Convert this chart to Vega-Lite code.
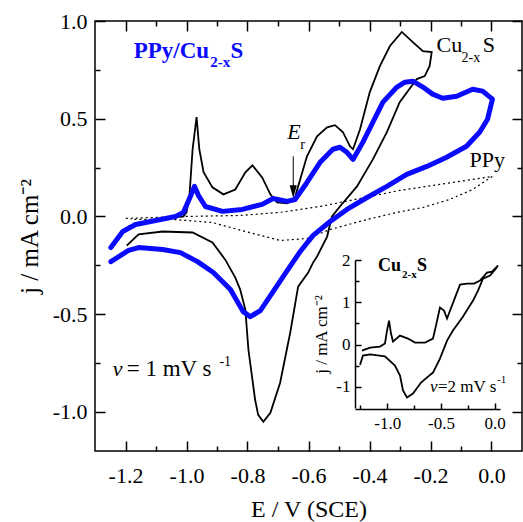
{
  "$schema": "https://vega.github.io/schema/vega-lite/v6.json",
  "width": 427,
  "height": 430,
  "autosize": "none",
  "padding": {"left": 95, "top": 21, "right": 1, "bottom": 71},
  "config": {
    "font": "Liberation Serif",
    "view": {"stroke": "#000", "strokeWidth": 1.5},
    "axis": {"grid": false, "tickColor": "#000", "tickWidth": 1.5, "domainColor": "#000", "domainWidth": 1.5, "labelColor": "#000", "titleColor": "#000", "titleFontWeight": "normal", "labelFont": "Liberation Serif", "titleFont": "Liberation Serif"}
  },
  "layer": [
    {
      "data": {"values": [
        {"s":"ppy","i":1,"x":-1.199,"y":-0.010},{"s":"ppy","i":2,"x":-1.003,"y":0.000},{"s":"ppy","i":3,"x":-0.824,"y":0.005},{"s":"ppy","i":4,"x":-0.693,"y":0.021},{"s":"ppy","i":5,"x":-0.562,"y":0.051},{"s":"ppy","i":6,"x":-0.431,"y":0.092},{"s":"ppy","i":7,"x":-0.301,"y":0.133},{"s":"ppy","i":8,"x":-0.170,"y":0.164},{"s":"ppy","i":9,"x":0.003,"y":0.205},{"s":"ppy","i":10,"x":-0.062,"y":0.138},{"s":"ppy","i":11,"x":-0.137,"y":0.087},{"s":"ppy","i":12,"x":-0.225,"y":0.046},{"s":"ppy","i":13,"x":-0.310,"y":0.021},{"s":"ppy","i":14,"x":-0.422,"y":-0.021},{"s":"ppy","i":15,"x":-0.529,"y":-0.067},{"s":"ppy","i":16,"x":-0.605,"y":-0.113},{"s":"ppy","i":17,"x":-0.693,"y":-0.123},{"s":"ppy","i":18,"x":-0.742,"y":-0.103},{"s":"ppy","i":19,"x":-0.807,"y":-0.077},{"s":"ppy","i":20,"x":-0.915,"y":-0.031},{"s":"ppy","i":21,"x":-1.046,"y":-0.015},{"s":"ppy","i":22,"x":-1.183,"y":-0.015},
        {"s":"cu","i":1,"x":-1.190,"y":-0.051},{"s":"cu","i":2,"x":-1.134,"y":-0.026},{"s":"cu","i":3,"x":-1.069,"y":-0.010},{"s":"cu","i":4,"x":-1.010,"y":0.000},{"s":"cu","i":5,"x":-1.000,"y":0.021},{"s":"cu","i":6,"x":-0.990,"y":0.113},{"s":"cu","i":7,"x":-0.980,"y":0.344},{"s":"cu","i":8,"x":-0.967,"y":0.508},{"s":"cu","i":9,"x":-0.958,"y":0.344},{"s":"cu","i":10,"x":-0.944,"y":0.226},{"s":"cu","i":11,"x":-0.915,"y":0.149},{"s":"cu","i":12,"x":-0.879,"y":0.113},{"s":"cu","i":13,"x":-0.840,"y":0.138},{"s":"cu","i":14,"x":-0.807,"y":0.226},{"s":"cu","i":15,"x":-0.784,"y":0.262},{"s":"cu","i":16,"x":-0.752,"y":0.200},{"s":"cu","i":17,"x":-0.725,"y":0.113},{"s":"cu","i":18,"x":-0.703,"y":0.072},{"s":"cu","i":19,"x":-0.670,"y":0.067},{"s":"cu","i":20,"x":-0.644,"y":0.097},{"s":"cu","i":21,"x":-0.637,"y":0.138},{"s":"cu","i":22,"x":-0.605,"y":0.308},{"s":"cu","i":23,"x":-0.572,"y":0.410},{"s":"cu","i":24,"x":-0.539,"y":0.456},{"s":"cu","i":25,"x":-0.513,"y":0.467},{"s":"cu","i":26,"x":-0.487,"y":0.431},{"s":"cu","i":27,"x":-0.464,"y":0.359},{"s":"cu","i":28,"x":-0.454,"y":0.344},{"s":"cu","i":29,"x":-0.431,"y":0.446},{"s":"cu","i":30,"x":-0.399,"y":0.636},{"s":"cu","i":31,"x":-0.366,"y":0.769},{"s":"cu","i":32,"x":-0.333,"y":0.872},{"s":"cu","i":33,"x":-0.294,"y":0.944},{"s":"cu","i":34,"x":-0.258,"y":0.892},{"s":"cu","i":35,"x":-0.225,"y":0.846},{"s":"cu","i":36,"x":-0.196,"y":0.841},{"s":"cu","i":37,"x":-0.203,"y":0.769},{"s":"cu","i":38,"x":-0.219,"y":0.718},{"s":"cu","i":39,"x":-0.245,"y":0.703},{"s":"cu","i":40,"x":-0.301,"y":0.585},{"s":"cu","i":41,"x":-0.343,"y":0.431},{"s":"cu","i":42,"x":-0.389,"y":0.292},{"s":"cu","i":43,"x":-0.441,"y":0.154},{"s":"cu","i":44,"x":-0.497,"y":0.051},{"s":"cu","i":45,"x":-0.523,"y":0.000},{"s":"cu","i":46,"x":-0.539,"y":-0.103},{"s":"cu","i":47,"x":-0.572,"y":-0.205},{"s":"cu","i":48,"x":-0.585,"y":-0.236},{"s":"cu","i":49,"x":-0.601,"y":-0.287},{"s":"cu","i":50,"x":-0.634,"y":-0.359},{"s":"cu","i":51,"x":-0.660,"y":-0.595},{"s":"cu","i":52,"x":-0.693,"y":-0.851},{"s":"cu","i":53,"x":-0.725,"y":-1.005},{"s":"cu","i":54,"x":-0.748,"y":-1.051},{"s":"cu","i":55,"x":-0.765,"y":-1.015},{"s":"cu","i":56,"x":-0.775,"y":-0.938},{"s":"cu","i":57,"x":-0.797,"y":-0.682},{"s":"cu","i":58,"x":-0.807,"y":-0.477},{"s":"cu","i":59,"x":-0.824,"y":-0.374},{"s":"cu","i":60,"x":-0.840,"y":-0.313},{"s":"cu","i":61,"x":-0.873,"y":-0.221},{"s":"cu","i":62,"x":-0.915,"y":-0.133},{"s":"cu","i":63,"x":-0.980,"y":-0.082},{"s":"cu","i":64,"x":-1.078,"y":-0.077},{"s":"cu","i":65,"x":-1.157,"y":-0.092},{"s":"cu","i":66,"x":-1.196,"y":-0.149},
        {"s":"pc","i":1,"x":-1.248,"y":-0.159},{"s":"pc","i":2,"x":-1.209,"y":-0.077},{"s":"pc","i":3,"x":-1.167,"y":-0.041},{"s":"pc","i":4,"x":-1.101,"y":-0.021},{"s":"pc","i":5,"x":-1.036,"y":0.000},{"s":"pc","i":6,"x":-1.010,"y":0.021},{"s":"pc","i":7,"x":-0.987,"y":0.103},{"s":"pc","i":8,"x":-0.974,"y":0.154},{"s":"pc","i":9,"x":-0.961,"y":0.108},{"s":"pc","i":10,"x":-0.938,"y":0.051},{"s":"pc","i":11,"x":-0.882,"y":0.026},{"s":"pc","i":12,"x":-0.817,"y":0.036},{"s":"pc","i":13,"x":-0.752,"y":0.062},{"s":"pc","i":14,"x":-0.716,"y":0.092},{"s":"pc","i":15,"x":-0.670,"y":0.077},{"s":"pc","i":16,"x":-0.644,"y":0.087},{"s":"pc","i":17,"x":-0.605,"y":0.174},{"s":"pc","i":18,"x":-0.562,"y":0.277},{"s":"pc","i":19,"x":-0.520,"y":0.344},{"s":"pc","i":20,"x":-0.497,"y":0.354},{"s":"pc","i":21,"x":-0.474,"y":0.328},{"s":"pc","i":22,"x":-0.454,"y":0.292},{"s":"pc","i":23,"x":-0.422,"y":0.379},{"s":"pc","i":24,"x":-0.389,"y":0.482},{"s":"pc","i":25,"x":-0.356,"y":0.585},{"s":"pc","i":26,"x":-0.310,"y":0.662},{"s":"pc","i":27,"x":-0.284,"y":0.687},{"s":"pc","i":28,"x":-0.258,"y":0.692},{"s":"pc","i":29,"x":-0.225,"y":0.662},{"s":"pc","i":30,"x":-0.193,"y":0.626},{"s":"pc","i":31,"x":-0.160,"y":0.605},{"s":"pc","i":32,"x":-0.114,"y":0.615},{"s":"pc","i":33,"x":-0.062,"y":0.651},{"s":"pc","i":34,"x":-0.029,"y":0.641},{"s":"pc","i":35,"x":0.003,"y":0.600},{"s":"pc","i":36,"x":-0.013,"y":0.497},{"s":"pc","i":37,"x":-0.039,"y":0.431},{"s":"pc","i":38,"x":-0.082,"y":0.359},{"s":"pc","i":39,"x":-0.147,"y":0.303},{"s":"pc","i":40,"x":-0.212,"y":0.256},{"s":"pc","i":41,"x":-0.278,"y":0.215},{"s":"pc","i":42,"x":-0.343,"y":0.154},{"s":"pc","i":43,"x":-0.408,"y":0.097},{"s":"pc","i":44,"x":-0.474,"y":0.036},{"s":"pc","i":45,"x":-0.529,"y":-0.026},{"s":"pc","i":46,"x":-0.585,"y":-0.097},{"s":"pc","i":47,"x":-0.627,"y":-0.179},{"s":"pc","i":48,"x":-0.670,"y":-0.277},{"s":"pc","i":49,"x":-0.716,"y":-0.385},{"s":"pc","i":50,"x":-0.758,"y":-0.482},{"s":"pc","i":51,"x":-0.791,"y":-0.513},{"s":"pc","i":52,"x":-0.814,"y":-0.487},{"s":"pc","i":53,"x":-0.856,"y":-0.374},{"s":"pc","i":54,"x":-0.912,"y":-0.287},{"s":"pc","i":55,"x":-0.964,"y":-0.231},{"s":"pc","i":56,"x":-1.020,"y":-0.185},{"s":"pc","i":57,"x":-1.078,"y":-0.169},{"s":"pc","i":58,"x":-1.157,"y":-0.159},{"s":"pc","i":59,"x":-1.190,"y":-0.174},{"s":"pc","i":60,"x":-1.248,"y":-0.231}
      ]},
      "encoding": {
        "x": {"field": "x", "type": "quantitative", "scale": {"domain": [-1.3, 0.1], "nice": false, "zero": false},
          "axis": {"orient": "bottom", "domain": false, "title": "E / V (SCE)", "titleFontSize": 24, "titlePadding": 11, "labelFontSize": 22,
            "values": [-1.2,-1.1,-1.0,-0.9,-0.8,-0.7,-0.6,-0.5,-0.4,-0.3,-0.2,-0.1,0.0],
            "tickSize": {"condition": {"test": "round(datum.value*10) % 2 == 0", "value": -10}, "value": -5},
            "labelPadding": 24,
            "labelExpr": "round(datum.value*10) % 2 == 0 ? replace(format(datum.value, '.1f'), '\u2212', '-') : ''"}},
        "y": {"field": "y", "type": "quantitative", "scale": {"domain": [-1.2, 1.0], "nice": false, "zero": false},
          "axis": {"orient": "left", "domain": false, "title": "j / mA cm\u207b\u00b2", "titleFontSize": 25, "titlePadding": 10, "labelFontSize": 22,
            "values": [-1.0,-0.75,-0.5,-0.25,0,0.25,0.5,0.75,1.0],
            "tickSize": {"condition": {"test": "round(datum.value*4) % 2 == 0", "value": -10}, "value": -5},
            "labelPadding": 18,
            "labelExpr": "round(datum.value*4) % 2 == 0 ? replace(format(datum.value, '.1f'), '\u2212', '-') : ''"}}
      },
      "layer": [
        {"transform": [{"filter": "datum.s === 'ppy'"}], "mark": {"type": "line", "color": "#000", "strokeWidth": 1.2, "strokeDash": [2, 3]}, "encoding": {"order": {"field": "i", "type": "quantitative"}}},
        {"transform": [{"filter": "datum.s === 'cu'"}], "mark": {"type": "line", "color": "#000", "strokeWidth": 1.8}, "encoding": {"order": {"field": "i", "type": "quantitative"}}},
        {"transform": [{"filter": "datum.s === 'pc'"}], "mark": {"type": "line", "color": "#0a0aff", "strokeWidth": 5, "strokeCap": "round", "strokeJoin": "round"}, "encoding": {"order": {"field": "i", "type": "quantitative"}}},
        {"data": {"values": [{"x": -0.650, "y": 0.308, "y2": 0.12}]}, "mark": {"type": "rule", "color": "#000", "strokeWidth": 1}, "encoding": {"y2": {"field": "y2"}}},
        {"data": {"values": [{"x": -0.650, "y": 0.126}]}, "mark": {"type": "point", "shape": "M-0.55,-1L0.55,-1L0,1Z", "filled": true, "color": "#000", "opacity": 1, "size": 169}},
        {"data": {"values": [{"x": -1.173, "y": 0.81, "t": "PPy/Cu"}, {"x": -0.856, "y": 0.81, "t": "S"}]}, "mark": {"type": "text", "align": "left", "baseline": "alphabetic", "fontSize": 23, "fontWeight": "bold", "color": "#0a0aff"}, "encoding": {"text": {"field": "t"}}},
        {"data": {"values": [{"x": -0.922, "y": 0.764, "t": "2-x"}]}, "mark": {"type": "text", "align": "left", "baseline": "alphabetic", "fontSize": 15, "fontWeight": "bold", "color": "#0a0aff"}, "encoding": {"text": {"field": "t"}}},
        {"data": {"values": [{"x": -0.180, "y": 0.841, "t": "Cu"}, {"x": -0.029, "y": 0.841, "t": "S"}, {"x": -0.072, "y": 0.251, "t": "PPy"}]}, "mark": {"type": "text", "align": "left", "baseline": "alphabetic", "fontSize": 22, "color": "#000"}, "encoding": {"text": {"field": "t"}}},
        {"data": {"values": [{"x": -1.196, "y": -0.815, "t": "= 1 mV s"}]}, "mark": {"type": "text", "align": "left", "baseline": "alphabetic", "fontSize": 23, "color": "#000"}, "encoding": {"text": {"field": "t"}}},
        {"data": {"values": [{"x": -0.098, "y": 0.790, "t": "2-x"}, {"x": -0.627, "y": 0.344, "t": "r"}, {"x": -0.892, "y": -0.764, "t": "-1"}]}, "mark": {"type": "text", "align": "left", "baseline": "alphabetic", "fontSize": 14, "color": "#000"}, "encoding": {"text": {"field": "t"}}},
        {"data": {"values": [{"x": -0.670, "y": 0.395, "t": "E"}, {"x": -1.242, "y": -0.815, "t": "v"}]}, "mark": {"type": "text", "align": "left", "baseline": "alphabetic", "fontSize": 22, "fontStyle": "italic", "color": "#000"}, "encoding": {"text": {"field": "t"}}}
      ]
    },
    {
      "data": {"values": [{"x": 0, "y": 0}]},
      "mark": {"type": "point", "opacity": 0},
      "encoding": {
        "x": {"field": "x", "type": "quantitative", "scale": {"domain": [-1.3, 0.1], "nice": false, "zero": false},
          "axis": {"orient": "top", "domain": false, "labels": false, "title": null,
            "values": [-1.2,-1.1,-1.0,-0.9,-0.8,-0.7,-0.6,-0.5,-0.4,-0.3,-0.2,-0.1,0.0],
            "tickSize": {"condition": {"test": "round(datum.value*10) % 2 == 0", "value": -10}, "value": -5}}},
        "y": {"field": "y", "type": "quantitative", "scale": {"domain": [-1.2, 1.0], "nice": false, "zero": false},
          "axis": {"orient": "right", "domain": false, "labels": false, "title": null,
            "values": [-1.0,-0.75,-0.5,-0.25,0,0.25,0.5,0.75,1.0],
            "tickSize": {"condition": {"test": "round(datum.value*4) % 2 == 0", "value": -10}, "value": -5}}}
      }
    },
    {
      "data": {"values": [
        {"i":1,"x":-1.235,"y":-0.142},{"i":2,"x":-1.160,"y":-0.071},{"i":3,"x":-1.067,"y":-0.047},{"i":4,"x":-1.021,"y":0.024},{"i":5,"x":-1.002,"y":0.331},{"i":6,"x":-0.983,"y":0.567},{"i":7,"x":-0.965,"y":0.260},{"i":8,"x":-0.946,"y":0.071},{"i":9,"x":-0.881,"y":0.213},{"i":10,"x":-0.807,"y":0.142},{"i":11,"x":-0.741,"y":0.047},{"i":12,"x":-0.648,"y":0.047},{"i":13,"x":-0.574,"y":0.142},{"i":14,"x":-0.546,"y":0.449},{"i":15,"x":-0.509,"y":0.875},{"i":16,"x":-0.471,"y":0.804},{"i":17,"x":-0.443,"y":0.615},{"i":18,"x":-0.369,"y":1.111},{"i":19,"x":-0.322,"y":1.418},{"i":20,"x":-0.257,"y":1.442},{"i":21,"x":-0.192,"y":1.442},{"i":22,"x":-0.136,"y":1.513},{"i":23,"x":-0.071,"y":1.702},{"i":24,"x":-0.024,"y":1.726},{"i":25,"x":0.031,"y":1.868},
        {"i":26,"x":0.013,"y":1.797},{"i":27,"x":-0.043,"y":1.631},{"i":28,"x":-0.108,"y":1.560},{"i":29,"x":-0.155,"y":1.277},{"i":30,"x":-0.201,"y":1.040},{"i":31,"x":-0.294,"y":0.662},{"i":32,"x":-0.388,"y":0.331},{"i":33,"x":-0.443,"y":0.095},{"i":34,"x":-0.509,"y":-0.331},{"i":35,"x":-0.574,"y":-0.662},{"i":36,"x":-0.620,"y":-0.757},{"i":37,"x":-0.685,"y":-0.898},{"i":38,"x":-0.760,"y":-1.158},{"i":39,"x":-0.816,"y":-1.253},{"i":40,"x":-0.853,"y":-1.087},{"i":41,"x":-0.881,"y":-0.733},{"i":42,"x":-0.928,"y":-0.496},{"i":43,"x":-1.021,"y":-0.280},{"i":44,"x":-1.160,"y":-0.230},{"i":45,"x":-1.226,"y":-0.260},{"i":46,"x":-1.253,"y":-0.480}
      ]},
      "encoding": {
        "x": {"field": "x", "type": "quantitative", "scale": {"domain": [-1.3, 0.05], "range": [260, 405], "nice": false, "zero": false},
          "axis": {"orient": "bottom", "offset": -42, "domain": true, "title": null, "labelFontSize": 17,
            "values": [-1.25,-1.0,-0.75,-0.5,-0.25,0.0],
            "tickSize": {"condition": {"test": "round(datum.value*4) % 2 == 0", "value": -6}, "value": -4},
            "labelPadding": 12,
            "labelExpr": "round(datum.value*4) % 2 == 0 ? replace(format(datum.value, '.1f'), '\u2212', '-') : ''"}},
        "y": {"field": "y", "type": "quantitative", "scale": {"domain": [-1.5, 2.0], "range": [387, 239], "nice": false, "zero": false},
          "axis": {"orient": "left", "offset": -260, "domain": true, "title": "j / mA cm\u207b\u00b2", "titleFontSize": 17, "titlePadding": 5, "labelFontSize": 17,
            "values": [-1.0,-0.5,0,0.5,1.0,1.5,2.0],
            "tickSize": {"condition": {"test": "round(datum.value*2) % 2 == 0", "value": -6}, "value": -4},
            "labelPadding": 11,
            "labelExpr": "round(datum.value*2) % 2 == 0 ? replace(format(datum.value, 'd'), '\u2212', '-') : ''"}}
      },
      "layer": [
        {"mark": {"type": "line", "color": "#000", "strokeWidth": 1.8}, "encoding": {"order": {"field": "i", "type": "quantitative"}}},
        {"data": {"values": [{"x": -1.086, "y": 1.75, "t": "Cu"}, {"x": -0.723, "y": 1.75, "t": "S"}]}, "mark": {"type": "text", "align": "left", "baseline": "alphabetic", "fontSize": 18, "fontWeight": "bold", "color": "#000"}, "encoding": {"text": {"field": "t"}}},
        {"data": {"values": [{"x": -0.862, "y": 1.58, "t": "2-x"}]}, "mark": {"type": "text", "align": "left", "baseline": "alphabetic", "fontSize": 11, "fontWeight": "bold", "color": "#000"}, "encoding": {"text": {"field": "t"}}},
        {"data": {"values": [{"x": -0.602, "y": -1.11, "t": "v"}]}, "mark": {"type": "text", "align": "left", "baseline": "alphabetic", "fontSize": 17, "fontStyle": "italic", "color": "#000"}, "encoding": {"text": {"field": "t"}}},
        {"data": {"values": [{"x": -0.527, "y": -1.11, "t": "=2 mV s"}]}, "mark": {"type": "text", "align": "left", "baseline": "alphabetic", "fontSize": 17, "color": "#000"}, "encoding": {"text": {"field": "t"}}},
        {"data": {"values": [{"x": 0.022, "y": -0.92, "t": "-1"}]}, "mark": {"type": "text", "align": "left", "baseline": "alphabetic", "fontSize": 11, "color": "#000"}, "encoding": {"text": {"field": "t"}}}
      ]
    }
  ],
  "resolve": {"scale": {"x": "independent", "y": "independent"}, "axis": {"x": "independent", "y": "independent"}}
}
